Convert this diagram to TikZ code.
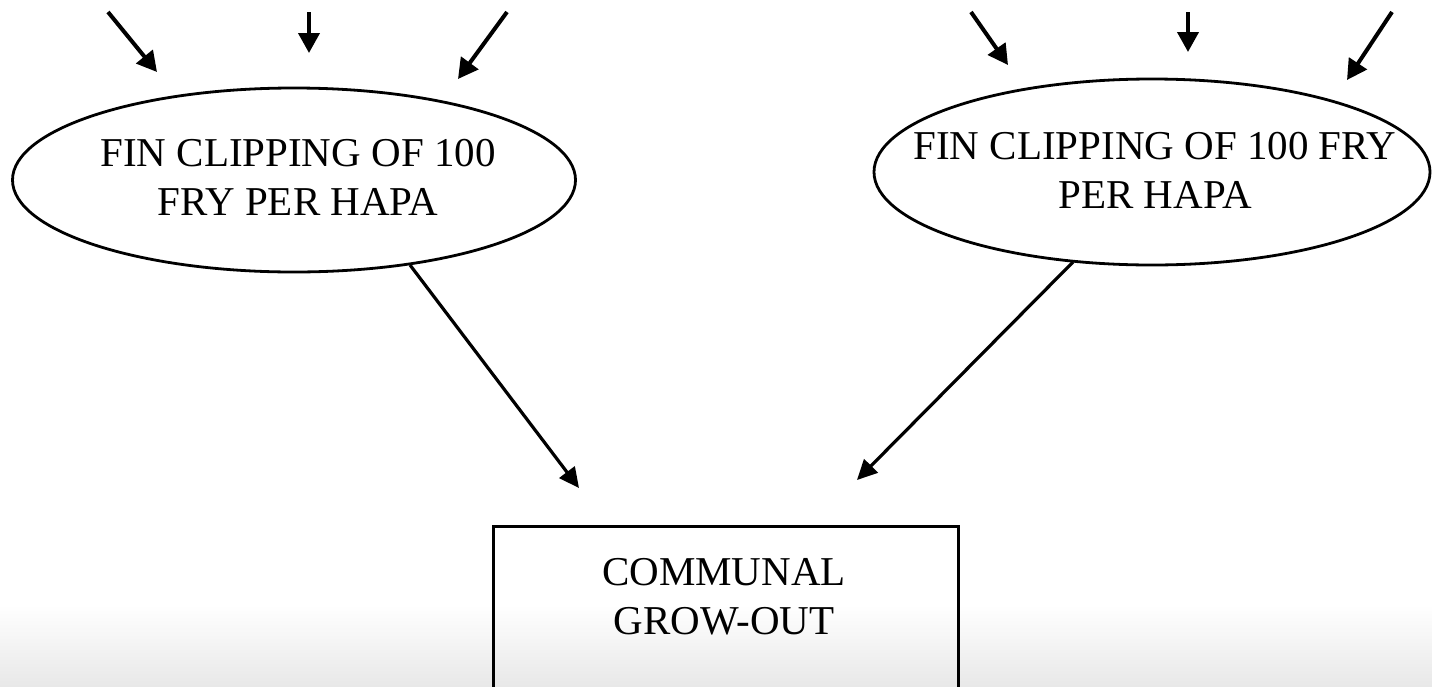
\documentclass[tikz,border=0pt]{standalone}
\usepackage{fontspec}
\setmainfont{Liberation Serif}
\usetikzlibrary{shapes.geometric,arrows.meta}
\tikzset{
  oval/.style={draw, ellipse, line width=2.8pt, inner sep=0pt},
  lbl/.style={inner sep=0pt, align=center, font=\fontsize{41}{49}\selectfont},
  arr/.style={line width=4pt, -{Triangle[length=20pt,width=21pt]}},
  arrthin/.style={line width=3.2pt, -{Triangle[length=20pt,width=19pt]}}
}
\begin{document}
\begin{tikzpicture}[x=1pt,y=-1pt]
\useasboundingbox (0,0) rectangle (1432,686);
\shade[top color=white, bottom color=black!9] (0,605) rectangle (1432,686);
% nodes
\node[oval, minimum width=563pt, minimum height=184pt] (L) at (294,180) {};
\node[lbl] (Lt) at (298,177) {FIN CLIPPING OF 100\\FRY PER HAPA};
\node[oval, minimum width=556pt, minimum height=186pt] (R) at (1152,172) {};
\node[lbl] (Rt) at (1155,170) {FIN CLIPPING OF 100 FRY\\PER HAPA};
\node[draw, line width=3pt, minimum width=465pt, minimum height=170pt, anchor=north west] (B) at (492,525) {};
\node[lbl] (C) at (724,597) {COMMUNAL\\GROW-OUT};
% free ends
\coordinate (l1s) at (108,12);  \coordinate (l1e) at (157,72);
\coordinate (l2s) at (309,12);  \coordinate (l2e) at (309,53);
\coordinate (l3s) at (507,12);  \coordinate (l3e) at (458,79);
\coordinate (r1s) at (971,12);  \coordinate (r1e) at (1008,65);
\coordinate (r2s) at (1188,12); \coordinate (r2e) at (1188,52);
\coordinate (r3s) at (1392,12); \coordinate (r3e) at (1347,80);
\coordinate (ls) at (410,265); \coordinate (le) at (579,488);
\coordinate (rs) at (1073,262); \coordinate (re) at (857,480);
\draw[arr] (l1s) -- (l1e);
\draw[arr] (l2s) -- (l2e);
\draw[arr] (l3s) -- (l3e);
\draw[arr] (r1s) -- (r1e);
\draw[arr] (r2s) -- (r2e);
\draw[arr] (r3s) -- (r3e);
\draw[arrthin] (ls) -- (le);
\draw[arrthin] (rs) -- (re);
\end{tikzpicture}
\end{document}
